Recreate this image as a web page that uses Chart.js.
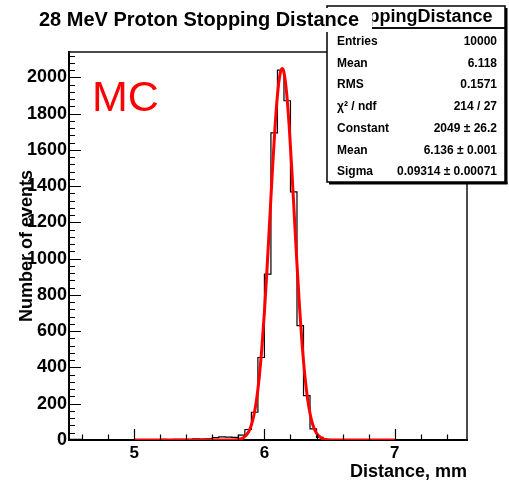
<!DOCTYPE html>
<html>
<head>
<meta charset="utf-8">
<script src="https://cdn.jsdelivr.net/npm/chart.js@4.4.1/dist/chart.umd.min.js"></script>
<style>
html, body { margin: 0; padding: 0; background: #ffffff; }
#wrap { width: 509px; height: 483px; position: relative; }
canvas { display: block; }
</style>
</head>
<body>
<div id="wrap"><canvas id="c" width="509" height="483"></canvas></div>
<script>
// ---------- data ----------
const chartTitle = '28 MeV Proton Stopping Distance';
const histName = 'StoppingDistance';
const xAxisTitle = 'Distance, mm';
const yAxisTitle = 'Number of events';
const annotationText = 'MC';

// histogram: 0.05 mm bins starting at 4.50 mm
const binStart = 4.5;
const binWidth = 0.05;
const binCounts = [
  3, 3, 2, 2, 2, 1, 2, 1, 1, 2,          // 4.50 - 5.00
  2, 1, 2, 2, 3, 2, 3, 4, 4, 6,          // 5.00 - 5.50
  5, 7, 13, 17, 16, 14, 27, 58, 153, 455, // 5.50 - 6.00
  915, 1694, 2040, 1871, 1368, 631, 245, 61, 15, 4, // 6.00 - 6.50
  1, 0, 0, 0, 0, 0, 0, 0, 0, 0,          // 6.50 - 7.00
  0, 0, 0, 0, 0, 0, 0, 0, 0, 0,          // 7.00 - 7.50
  0                                       // 7.50 - 7.55
];

// gaussian fit curve (fit range 5 - 7 mm)
const fitX = [5.0, 5.6, 5.7, 5.75, 5.8, 5.84, 5.88, 5.9, 5.92, 5.94, 5.96, 5.98, 6.0, 6.02, 6.04, 6.06, 6.08, 6.1, 6.12, 6.136,
              6.15, 6.17, 6.19, 6.21, 6.23, 6.25, 6.27, 6.29, 6.31, 6.33, 6.35, 6.37, 6.4, 6.44, 6.48, 6.52, 6.58, 7.0];
const fitY = [0, 0, 0, 0.4, 3, 13, 47, 83, 139, 224, 344, 504, 706, 944, 1205, 1469, 1710, 1902, 2019, 2049,
              2026, 1917, 1732, 1494, 1231, 969, 728, 522, 358, 234, 146, 87, 37, 10, 2, 0.4, 0, 0];

const xTickLabels = [5, 6, 7];
const yTickLabels = [0, 200, 400, 600, 800, 1000, 1200, 1400, 1600, 1800, 2000];
const xMinorTicks = [4.6, 4.8, 5.2, 5.4, 5.6, 5.8, 6.2, 6.4, 6.6, 6.8, 7.2, 7.4];
const yMinorStep = 40;
const xMin = 4.5, xMax = 7.555, yMin = 0, yMax = 2140;

const statLabels = ['Entries', 'Mean', 'RMS', 'χ² / ndf', 'Constant', 'Mean', 'Sigma'];
const statValues = ['10000', '6.118', '0.1571', '214 / 27', '2049 ± 26.2', '6.136 ± 0.001', '0.09314 ± 0.00071'];

// ---------- build ----------
const FONT = "'Liberation Sans', Arial, Helvetica, sans-serif";
const histPoints = binCounts.map((v, i) => ({ x: binStart + i * binWidth, y: v }));
histPoints.push({ x: binStart + binCounts.length * binWidth, y: binCounts[binCounts.length - 1] });
const fitPoints = fitX.map((x, i) => ({ x: x, y: fitY[i] }));

const rootDecor = {
  id: 'rootDecor',
  afterDraw(chart) {
    const ctx = chart.ctx;
    const xs = chart.scales.x, ys = chart.scales.y;
    const a = chart.chartArea;
    ctx.save();
    // frame top / right
    ctx.strokeStyle = '#111';
    ctx.lineWidth = 1.5;
    ctx.beginPath();
    ctx.moveTo(a.left, a.top); ctx.lineTo(a.right, a.top); ctx.lineTo(a.right, a.bottom);
    ctx.stroke();
    // inward ticks
    ctx.strokeStyle = '#000';
    ctx.lineWidth = 1.2;
    ctx.beginPath();
    xTickLabels.forEach(v => { const p = Math.round(xs.getPixelForValue(v)) + 0.5; ctx.moveTo(p, a.bottom); ctx.lineTo(p, a.bottom - 11); });
    xMinorTicks.forEach(v => { const p = Math.round(xs.getPixelForValue(v)) + 0.5; ctx.moveTo(p, a.bottom); ctx.lineTo(p, a.bottom - 5.5); });
    for (let v = 0; v <= yMax; v += yMinorStep) {
      const p = Math.round(ys.getPixelForValue(v)) + 0.5;
      const major = yTickLabels.indexOf(v) >= 0;
      ctx.moveTo(a.left, p); ctx.lineTo(a.left + (major ? 12 : 6), p);
    }
    ctx.stroke();

    // MC annotation
    ctx.fillStyle = '#ff0000';
    ctx.font = '43px ' + FONT;
    ctx.textAlign = 'left';
    ctx.textBaseline = 'alphabetic';
    ctx.fillText(annotationText, 92, 111);

    // stats box
    const x0 = 327, x1 = 505, hTop = 6, hBot = 28, bBot = 182;
    ctx.fillStyle = '#fff';
    ctx.fillRect(x0, hTop, x1 - x0, bBot - hTop);
    ctx.fillStyle = '#000';
    ctx.fillRect(x1, hTop + 2, 2.5, bBot - hTop);
    ctx.fillRect(x0 + 2, bBot, x1 - x0 + 0.5, 2.5);
    ctx.strokeStyle = '#000';
    ctx.lineWidth = 1.5;
    ctx.strokeRect(x0, hTop, x1 - x0, hBot - hTop);
    ctx.strokeRect(x0, hBot, x1 - x0, bBot - hBot);
    ctx.fillStyle = '#000';
    ctx.font = 'bold 18px ' + FONT;
    ctx.textAlign = 'center';
    ctx.fillText(histName, (x0 + x1) / 2, 22);
    ctx.font = 'bold 12px ' + FONT;
    statLabels.forEach((t, i) => {
      const yb = 45 + i * 21.7;
      ctx.textAlign = 'left';
      ctx.fillText(t, 337, yb);
      ctx.textAlign = 'right';
      ctx.fillText(statValues[i], 497, yb);
    });

    // title pave (drawn over the stats header)
    ctx.fillStyle = '#fff';
    ctx.fillRect(28, 8, 372 - 28, 24);
    ctx.fillStyle = '#000';
    ctx.font = 'bold 20px ' + FONT;
    ctx.textAlign = 'left';
    ctx.fillText(chartTitle, 39, 26);
    ctx.restore();
  }
};

new Chart(document.getElementById('c'), {
  type: 'line',
  data: {
    datasets: [
      {
        label: 'fit',
        data: fitPoints,
        borderColor: '#ff0000',
        borderWidth: 3,
        pointRadius: 0,
        cubicInterpolationMode: 'monotone',
        fill: false
      },
      {
        label: histName,
        data: histPoints,
        borderColor: '#000000',
        borderWidth: 1.2,
        pointRadius: 0,
        stepped: 'before',
        fill: false
      }
    ]
  },
  options: {
    responsive: false,
    animation: false,
    devicePixelRatio: 1,
    layout: { padding: { left: 0, top: 52, right: 42, bottom: 0 } },
    plugins: { legend: { display: false }, tooltip: { enabled: false }, title: { display: false } },
    scales: {
      x: {
        type: 'linear',
        min: xMin, max: xMax,
        afterFit: s => { s.height = 43; },
        afterBuildTicks: s => { s.ticks = xTickLabels.map(v => ({ value: v })); },
        grid: { display: false, drawTicks: false },
        border: { display: true, color: '#000', width: 2 },
        ticks: { color: '#000', padding: 3, maxRotation: 0, autoSkip: false, callback: v => String(v), font: { family: FONT, size: 17, weight: 'bold' } },
        title: { display: true, text: xAxisTitle, align: 'end', color: '#000', padding: { top: 0, bottom: 0 }, font: { family: FONT, size: 18, weight: 'bold' } }
      },
      y: {
        type: 'linear',
        min: yMin, max: yMax,
        afterFit: s => { s.width = 69; },
        afterBuildTicks: s => { s.ticks = yTickLabels.map(v => ({ value: v })); },
        grid: { display: false, drawTicks: false },
        border: { display: true, color: '#000', width: 2 },
        ticks: { color: '#000', padding: 2, autoSkip: false, callback: v => String(v), font: { family: FONT, size: 18, weight: 'bold' } },
        title: { display: true, text: yAxisTitle, color: '#000', padding: { top: 16, bottom: 0 }, font: { family: FONT, size: 18, weight: 'bold' } }
      }
    }
  },
  plugins: [rootDecor]
});
</script>
</body>
</html>
